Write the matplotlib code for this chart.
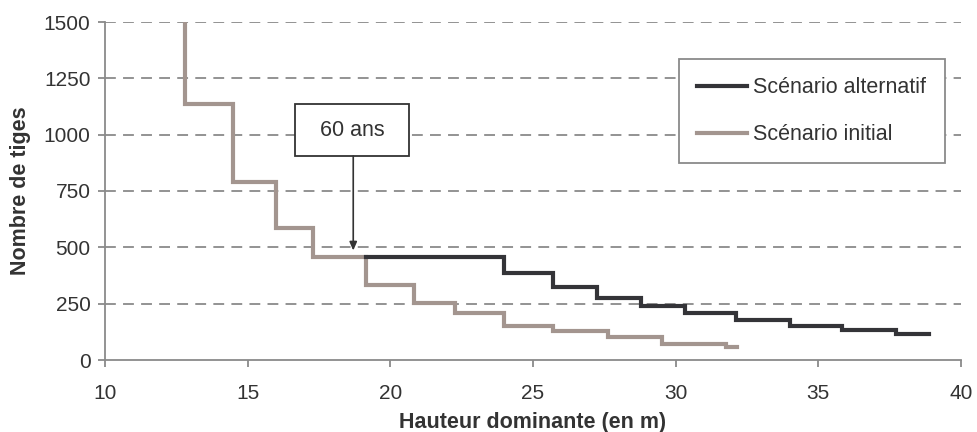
import matplotlib
matplotlib.use("Agg")
import matplotlib.pyplot as plt
from matplotlib.patches import Rectangle

# ---- data ----
x_initial = [12.8, 12.8, 14.5, 16.0, 17.3, 19.15, 20.83, 22.28, 24.0, 25.7, 27.64, 29.53, 31.78, 32.15]
y_initial = [1500, 1138, 790, 587, 458, 332, 251, 207, 152, 127, 100, 72, 56, 56]

x_altern = [19.15, 24.0, 25.7, 27.24, 28.79, 30.33, 32.13, 34.02, 35.84, 37.73, 38.87]
y_altern = [458, 387, 322, 276, 239, 207, 177, 151, 133, 115, 115]

labels = ["Scénario alternatif", "Scénario initial"]
x_ticks = [10, 15, 20, 25, 30, 35, 40]
y_ticks = [0, 250, 500, 750, 1000, 1250, 1500]
annot_text = "60 ans"

plt.rcParams['font.family'] = ['Liberation Sans', 'DejaVu Sans']

W, H = 977, 432
fig = plt.figure(figsize=(W / 100, H / 100), dpi=100)
ax = fig.add_axes([105 / W, (H - 360) / H, (961 - 105) / W, (360 - 22) / H])

col_alt = '#343438'
col_ini = '#a3958f'
grid_col = '#8a8a8a'
axis_col = '#8a8a8a'
txt_col = '#333333'

ax.set_xlim(10, 40)
ax.set_ylim(0, 1500)
ax.set_xticks(x_ticks)
ax.set_yticks(y_ticks)

for yv in y_ticks[1:]:
    ax.axhline(yv, color=grid_col, lw=1.3, ls=(0, (6, 4)), zorder=1)

l_alt, = ax.plot(x_altern, y_altern, drawstyle='steps-post', color=col_alt, lw=3,
                 solid_joinstyle='miter', zorder=3, label=labels[0])
l_ini, = ax.plot(x_initial, y_initial, drawstyle='steps-post', color=col_ini, lw=3,
                 solid_joinstyle='miter', zorder=2, label=labels[1])

for s in ['top', 'right']:
    ax.spines[s].set_visible(False)
for s in ['left', 'bottom']:
    ax.spines[s].set_color(axis_col)
    ax.spines[s].set_linewidth(1.3)

ax.tick_params(axis='both', colors=axis_col, labelcolor=txt_col, labelsize=15,
               length=5, width=1.3, direction='out')
ax.tick_params(axis='x', pad=12)
ax.tick_params(axis='y', pad=5.5)

xl = ax.set_xlabel("Hauteur dominante (en m)", fontsize=15.5, fontweight='bold',
                   color=txt_col)
xl.set_va('baseline')
ax.xaxis.set_label_coords(0.5, -(428 - 360) / 338)
yl = ax.set_ylabel("Nombre de tiges", fontsize=15.5, fontweight='bold', color=txt_col)
yl.set_va('baseline')
ax.yaxis.set_label_coords(-(105 - 26) / 856, 0.5)

# annotation box
bx0, bx1, by0, by1 = 16.66, 20.67, 905, 1135
ax.add_patch(Rectangle((bx0, by0), bx1 - bx0, by1 - by0, facecolor='white',
                       edgecolor='#333333', lw=1.3, zorder=5))
ax.text((bx0 + bx1) / 2, (by0 + by1) / 2, annot_text, ha='center', va='center',
        fontsize=15.5, color=txt_col, zorder=6)
ax.annotate('', xy=(18.7, 486), xytext=(18.7, by0),
            arrowprops=dict(arrowstyle='-|>,head_length=0.5,head_width=0.22',
                            color='#333333', lw=1.2, shrinkA=0, shrinkB=0),
            zorder=6)

leg = ax.legend(handles=[l_alt, l_ini], loc='upper left',
                bbox_to_anchor=((679 - 105) / 856, (360 - 59) / 338),
                prop={'size': 15.5}, frameon=True, fancybox=False, handlelength=2.3,
                handletextpad=0.3, labelspacing=1.2, borderpad=0.85,
                borderaxespad=0, labelcolor=txt_col)
leg.get_frame().set_edgecolor(axis_col)
leg.get_frame().set_linewidth(1.3)
leg.get_frame().set_alpha(1)

fig.savefig("out.png", dpi=100)
